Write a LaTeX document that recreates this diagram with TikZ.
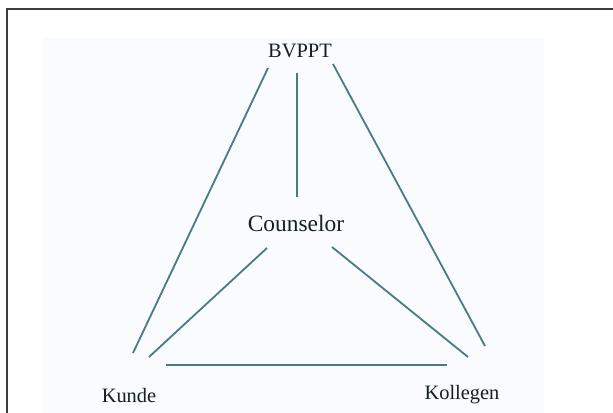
\documentclass[tikz,border=0pt]{standalone}
\usepackage{fontspec}
\setmainfont{Liberation Serif}
\usetikzlibrary{calc}
\definecolor{linec}{RGB}{74,122,136}
\definecolor{bgc}{RGB}{250,251,254}
\definecolor{framec}{RGB}{60,60,60}
\definecolor{textc}{RGB}{20,30,35}
\begin{document}
\begin{tikzpicture}[x=1bp,y=-1bp,
  lbl/.style={inner sep=0pt,text=textc,font=\fontsize{20.5}{24}\selectfont},
  big/.style={inner sep=0pt,text=textc,font=\fontsize{23.5}{28}\selectfont},
  conn/.style={draw=linec,line width=1.8bp}]
\useasboundingbox (0,0) rectangle (613,412);
\fill[white] (0,0) rectangle (613,412);
\fill[bgc] (43,38) rectangle (544,420);
\draw[framec,line width=2bp] (7,420) -- (7,9) -- (620,9);
\node[lbl] (bv) at (300,51) {BVPPT};
\node[big] (co) at (296,223) {Counselor};
\node[lbl] (ku) at (129,396) {Kunde};
\node[lbl] (kol) at (462,395) {Kollegen};
\draw[conn] ($(bv)+(-32,17)$) -- ($(ku)+(4,-43)$);
\draw[conn] ($(bv)+(-3,22)$) -- ($(co)+(1,-26)$);
\draw[conn] ($(bv)+(33,13)$) -- ($(kol)+(23,-49)$);
\draw[conn] ($(co)+(-29,25)$) -- ($(ku)+(20,-39)$);
\draw[conn] ($(co)+(36,24)$) -- ($(kol)+(6,-38)$);
\draw[conn] ($(ku)+(37,-31)$) -- ($(kol)+(-15,-30)$);
\end{tikzpicture}
\end{document}
